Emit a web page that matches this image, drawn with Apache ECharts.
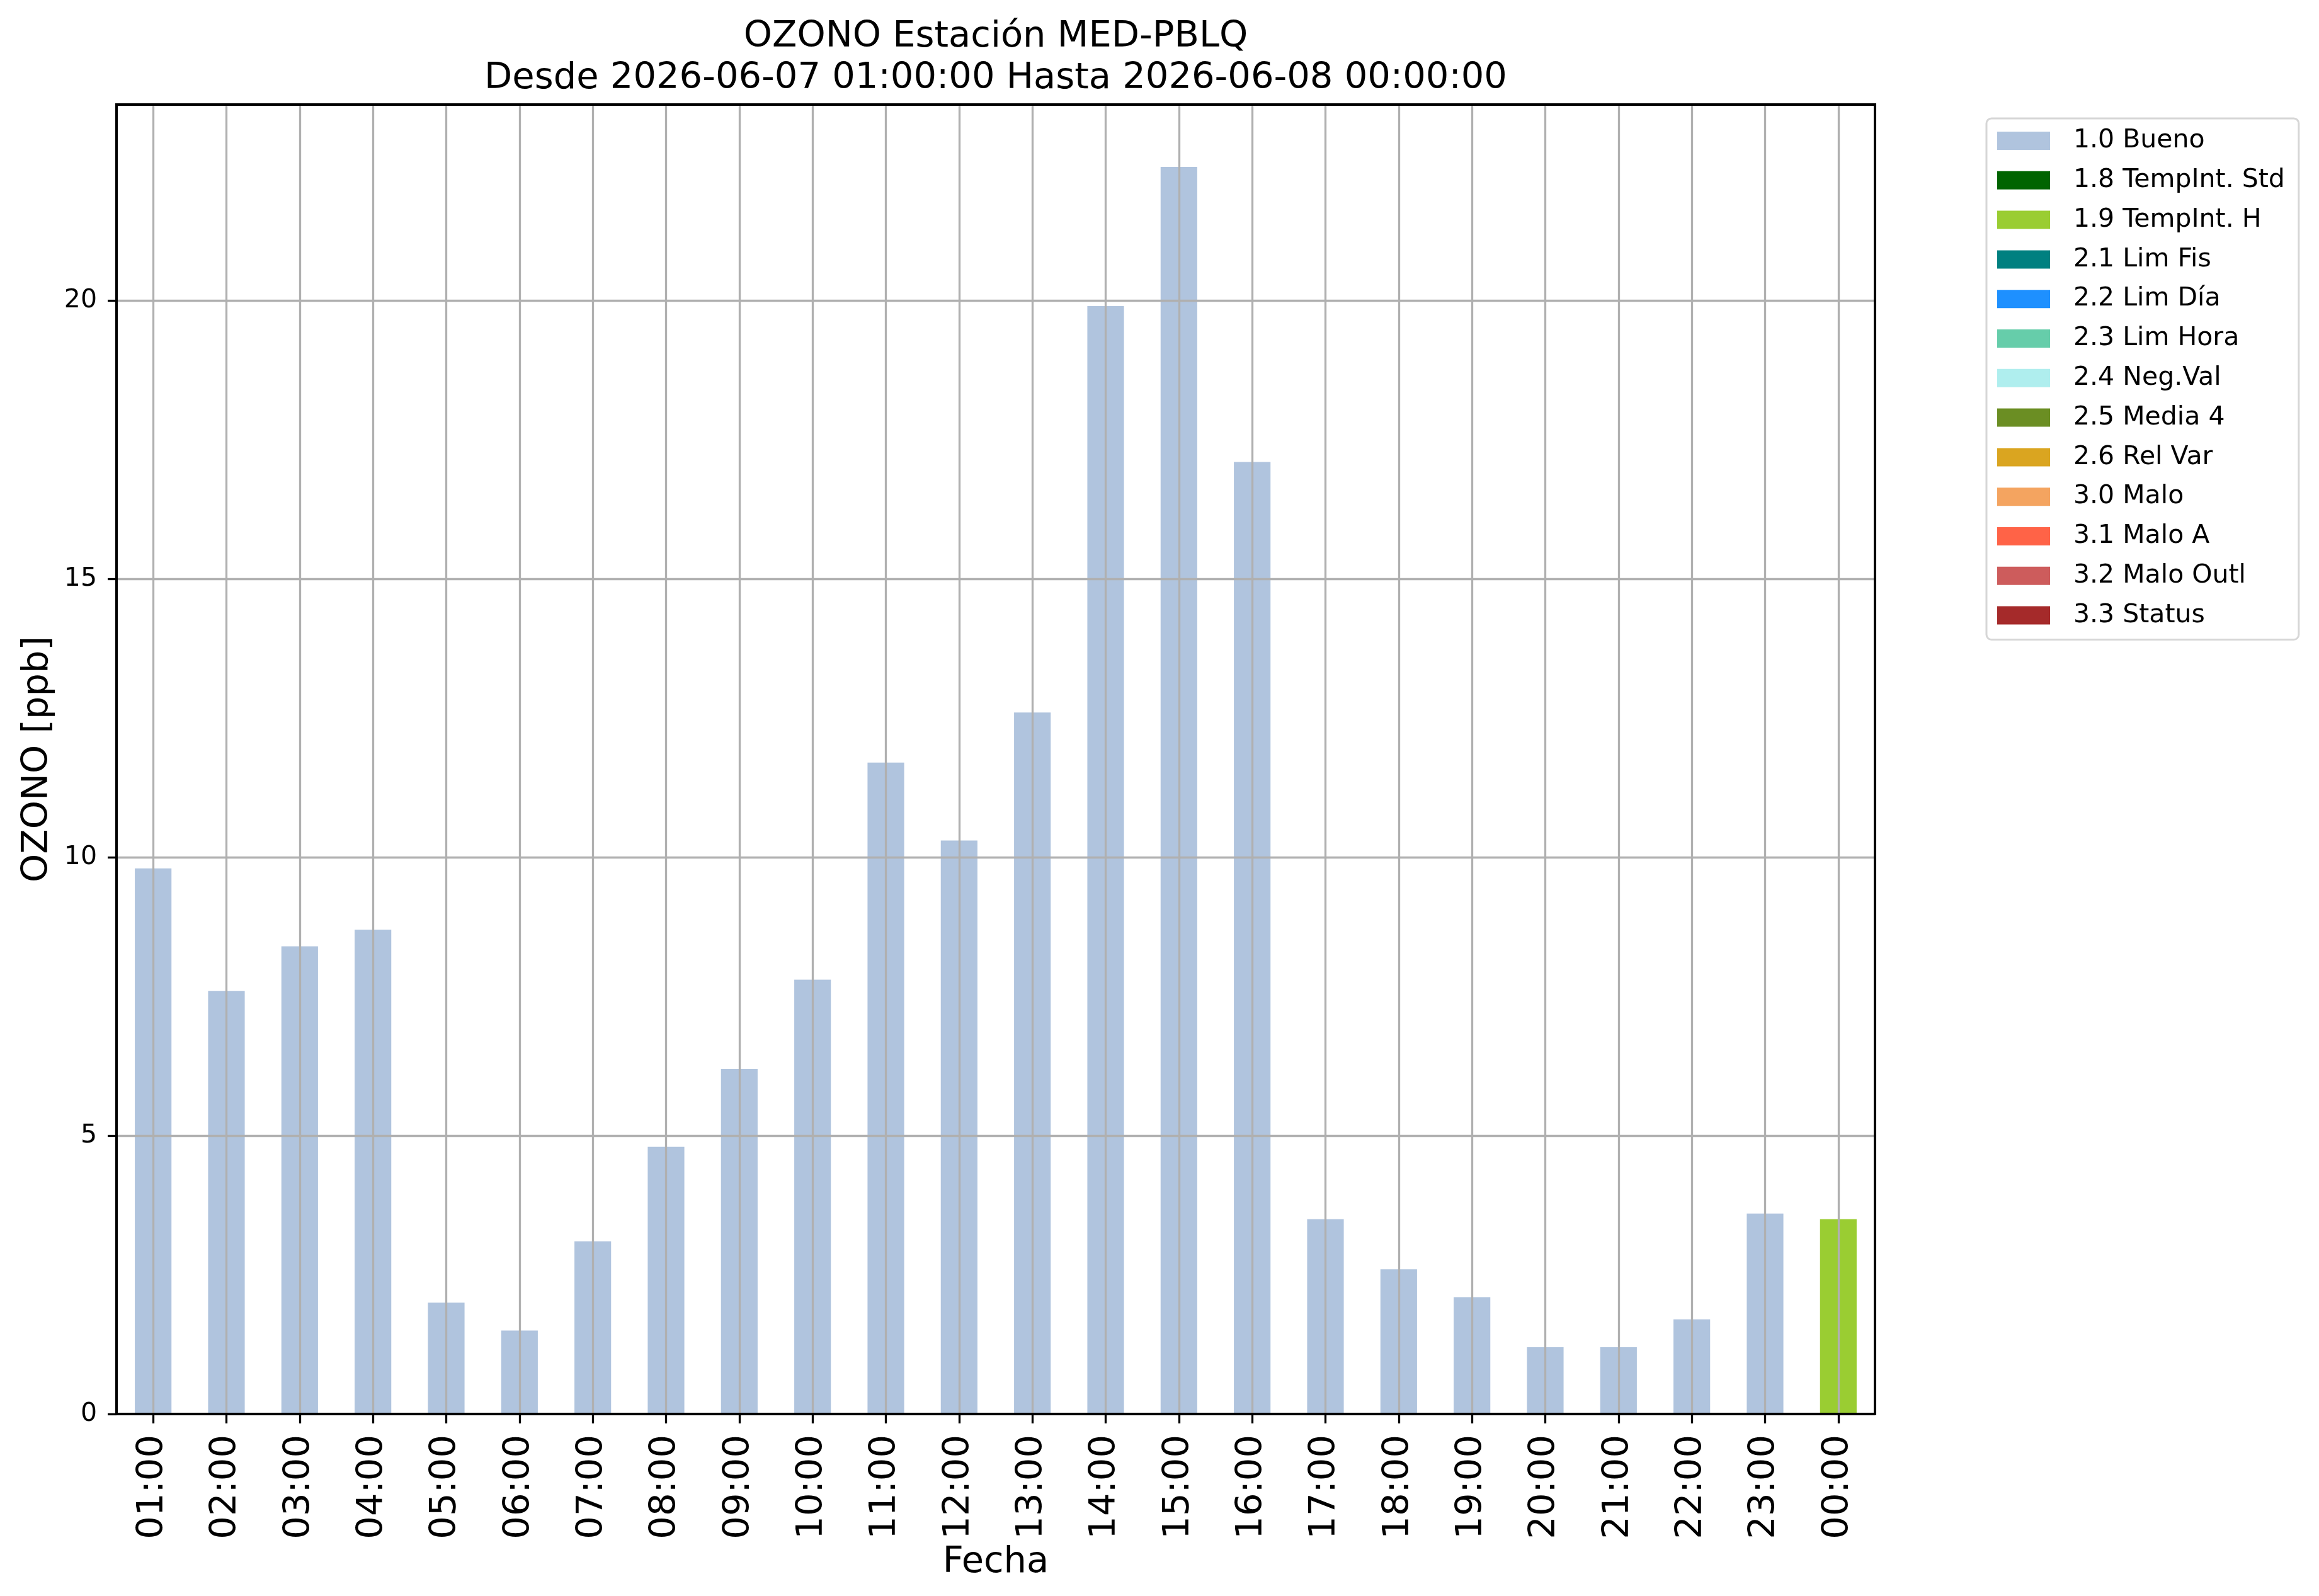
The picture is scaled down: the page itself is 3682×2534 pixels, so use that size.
<!DOCTYPE html>
<html>
<head>
<meta charset="utf-8">
<title>OZONO MED-PBLQ</title>
<script src="https://cdn.jsdelivr.net/npm/echarts@6/dist/echarts.min.js"></script>
<style>
    html, body { margin: 0; padding: 0; background: #fff; }
    #chart { width: 3682px; height: 2534px; }
</style>
</head>
<body>
<div id="chart"></div>
<script>
var horas = ['01:00', '02:00', '03:00', '04:00', '05:00', '06:00', '07:00', '08:00',
    '09:00', '10:00', '11:00', '12:00', '13:00', '14:00', '15:00', '16:00',
    '17:00', '18:00', '19:00', '20:00', '21:00', '22:00', '23:00', '00:00'];
var ozono = [9.8, 7.6, 8.4, 8.7, 2.0, 1.5, 3.1, 4.8, 6.2, 7.8, 11.7, 10.3,
    12.6, 19.9, 22.4, 17.1, 3.5, 2.6, 2.1, 1.2, 1.2, 1.7, 3.6, 3.5];
var banderas = ['1.0', '1.0', '1.0', '1.0', '1.0', '1.0', '1.0', '1.0',
    '1.0', '1.0', '1.0', '1.0', '1.0', '1.0', '1.0', '1.0',
    '1.0', '1.0', '1.0', '1.0', '1.0', '1.0', '1.0', '1.9'];
var codigos = ['1.0', '1.8', '1.9', '2.1', '2.2', '2.3', '2.4', '2.5', '2.6', '3.0', '3.1', '3.2', '3.3'];
var nombres = ['1.0 Bueno', '1.8 TempInt. Std', '1.9 TempInt. H', '2.1 Lim Fis', '2.2 Lim Día',
    '2.3 Lim Hora', '2.4 Neg.Val', '2.5 Media 4', '2.6 Rel Var', '3.0 Malo', '3.1 Malo A',
    '3.2 Malo Outl', '3.3 Status'];
var colores = ['#b0c4de', '#006400', '#9acd32', '#008080', '#1e90ff', '#66cdaa', '#afeeee',
    '#6b8e23', '#daa520', '#f4a460', '#ff6347', '#cd5c5c', '#a52a2a'];
var yTicks = [0, 5, 10, 15, 20];

var fuente = 'DejaVu Sans';
var maxY = Math.max.apply(null, ozono) * 1.05;

/* una serie por bandera de calidad, apiladas */
var series = [];
for (var k = 0; k < codigos.length; k++) {
    var d = [];
    for (var i = 0; i < ozono.length; i++) {
        d.push(banderas[i] === codigos[k] ? ozono[i] : '-');
    }
    series.push({
        name: nombres[k],
        type: 'bar',
        stack: 'calidad',
        barWidth: '50%',
        xAxisIndex: 0,
        yAxisIndex: 0,
        itemStyle: { color: colores[k] },
        data: d,
        z: 2
    });
}

var chart = echarts.init(document.getElementById('chart'));

var option = {
    animation: false,
    backgroundColor: '#fff',
    textStyle: { fontFamily: fuente },
    title: {
        text: 'OZONO Estación MED-PBLQ\nDesde 2026-06-07 01:00:00 Hasta 2026-06-08 00:00:00',
        left: 1576,
        top: 21,
        textAlign: 'center',
        textStyle: {
            fontFamily: fuente,
            fontSize: 57.5,
            fontWeight: 'normal',
            color: '#000',
            lineHeight: 66
        }
    },
    legend: {
        orient: 'vertical',
        left: 3154,
        top: 188,
        icon: 'rect',
        itemWidth: 84,
        itemHeight: 29,
        itemGap: 21.8,
        padding: [15, 22, 18, 17],
        backgroundColor: '#fff',
        borderColor: '#d6d6d6',
        borderWidth: 3,
        borderRadius: 8,
        data: nombres,
        textStyle: {
            fontFamily: fuente,
            fontSize: 41,
            color: '#000',
            padding: [0, 0, 0, 32]
        }
    },
    grid: [{
        left: 185,
        right: 705,
        top: 166,
        bottom: 289,
        show: true,
        z: 5,
        backgroundColor: 'transparent',
        borderColor: '#000',
        borderWidth: 4
    }, {
        left: 185 + 2792 / 48,
        right: 705 + 2792 / 48,
        top: 166,
        bottom: 289
    }],
    xAxis: [{
        type: 'category',
        gridIndex: 0,
        data: horas,
        z: 4,
        name: 'Fecha',
        nameLocation: 'middle',
        nameGap: 181,
        nameTextStyle: { fontFamily: fuente, fontSize: 57.5, color: '#000', lineHeight: 57.5 },
        axisLine: { show: true, lineStyle: { color: '#000', width: 4 } },
        axisTick: { show: true, alignWithLabel: true, length: 15, lineStyle: { color: '#000', width: 3.3 } },
        axisLabel: {
            rotate: 90,
            margin: 33,
            interval: 0,
            fontFamily: fuente,
            fontSize: 57.5,
            color: '#000'
        },
        splitLine: { show: false }
    }, {
        type: 'value',
        gridIndex: 1,
        min: 0,
        max: horas.length - 1,
        interval: 1,
        z: 3,
        axisLine: { show: false },
        axisTick: { show: false },
        axisLabel: { show: false },
        splitLine: { show: true, lineStyle: { color: '#b0b0b0', width: 3.3 } }
    }],
    yAxis: [{
        type: 'value',
        gridIndex: 0,
        min: 0,
        max: maxY,
        interval: 5,
        z: 3,
        name: 'OZONO [ppb]',
        nameLocation: 'middle',
        nameGap: 96,
        nameRotate: 90,
        nameTextStyle: { fontFamily: fuente, fontSize: 57.5, color: '#000', lineHeight: 57.5 },
        axisLine: { show: true, lineStyle: { color: '#000', width: 4 } },
        axisTick: { show: true, length: 14, customValues: yTicks, lineStyle: { color: '#000', width: 3.3 } },
        axisLabel: {
            margin: 31,
            fontFamily: fuente,
            fontSize: 41,
            color: '#000',
            customValues: yTicks
        },
        splitLine: { show: true, lineStyle: { color: '#b0b0b0', width: 3.3 } }
    }, {
        type: 'value',
        gridIndex: 1,
        min: 0,
        max: maxY,
        show: false,
        splitLine: { show: false }
    }],
    series: series
};

chart.setOption(option);
</script>
</body>
</html>
